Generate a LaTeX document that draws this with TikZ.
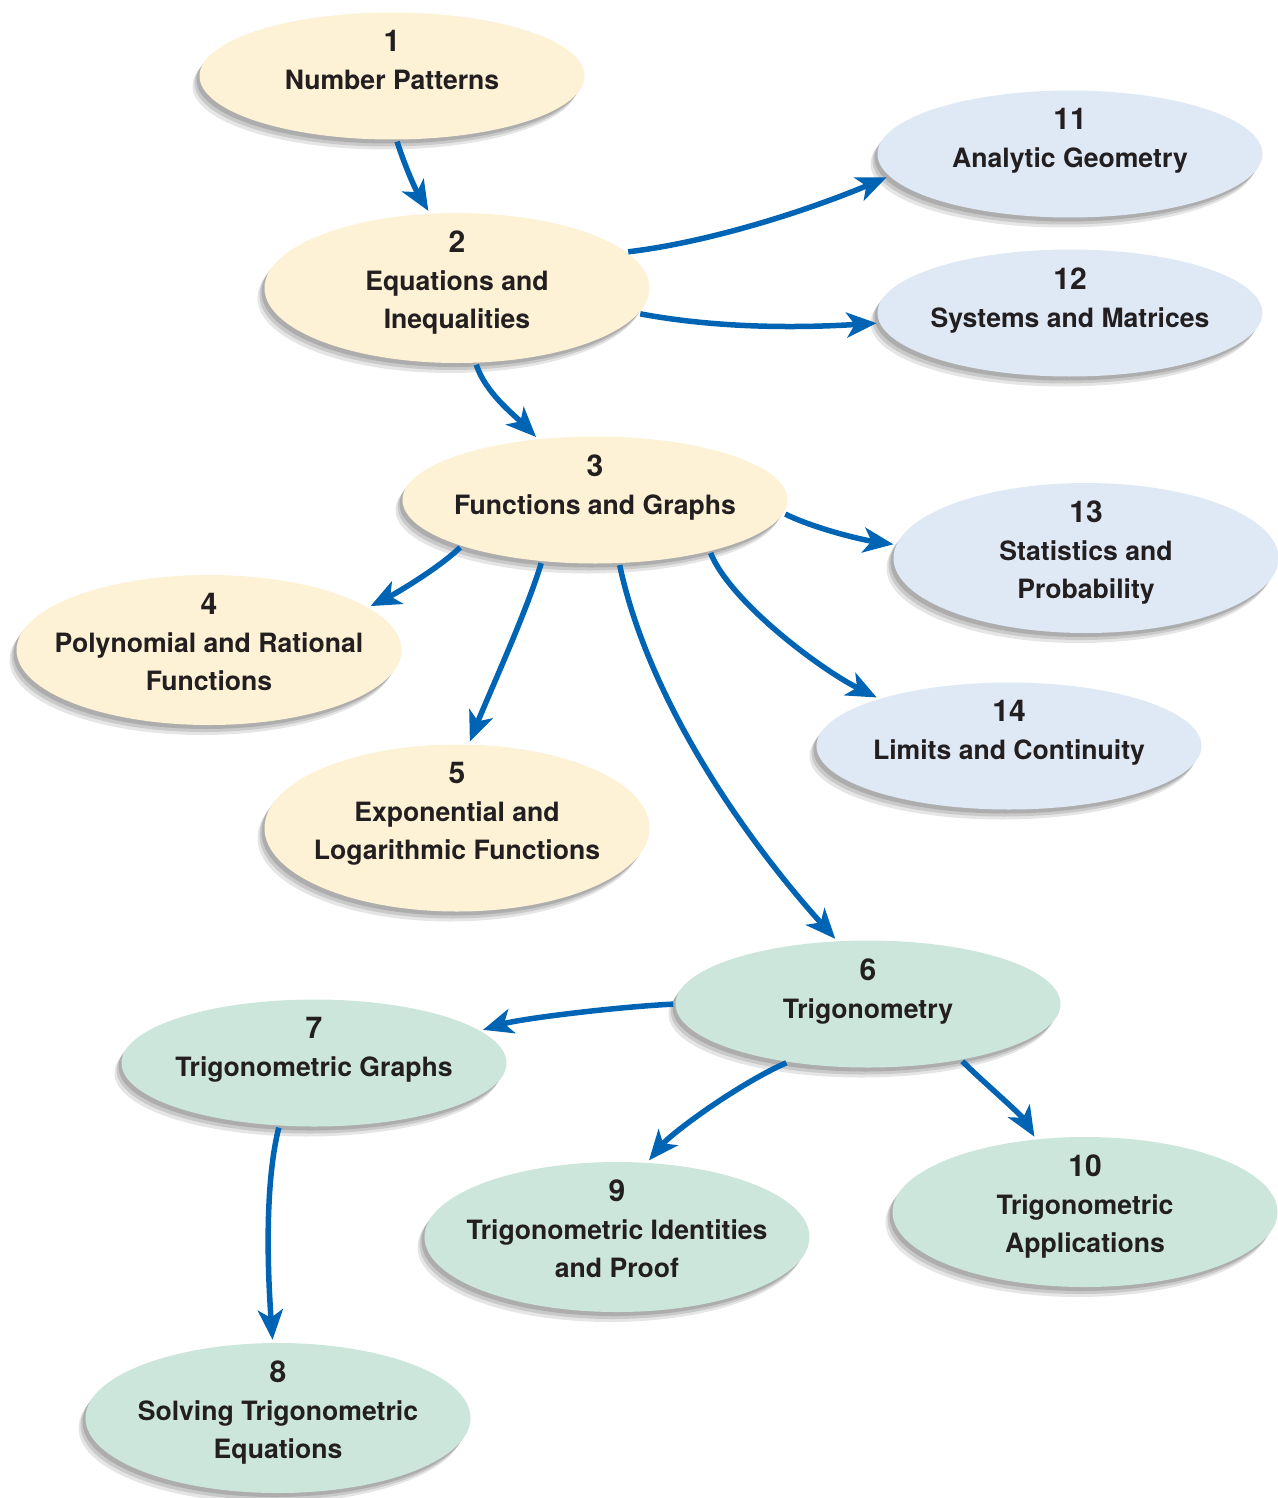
\documentclass[tikz,border=0pt]{standalone}
\usepackage{fontspec}
\setmainfont{TeX Gyre Heros}
\usetikzlibrary{arrows.meta,shapes.geometric}
\definecolor{yel}{HTML}{FDF1D6}
\definecolor{blu}{HTML}{DFE9F5}
\definecolor{grn}{HTML}{CDE6DC}
\definecolor{arrowblue}{HTML}{0064B4}
\definecolor{ink}{HTML}{231F20}
\begin{document}
\begin{tikzpicture}[x=1pt,y=-1pt,
  shadowed/.style={
    preaction={fill=black, opacity=0.10, transform canvas={xshift=-7pt,yshift=-10pt}},
    preaction={fill=black, opacity=0.12, transform canvas={xshift=-5pt,yshift=-7pt}},
    preaction={fill=black, opacity=0.14, transform canvas={xshift=-3pt,yshift=-4pt}}},
  ell/.style={ellipse, minimum width=385pt, minimum height=127pt, inner sep=0pt, draw=none, shadowed},
  tall/.style={minimum height=150pt},
  ylw/.style={ell, fill=yel},
  bl/.style={ell, fill=blu},
  gr/.style={ell, fill=grn},
  txt/.style={align=center, anchor=north, inner sep=0pt, text=ink,
    font=\fontsize{26.6}{38}\selectfont\bfseries},
  arr/.style={draw=arrowblue, line width=5.5pt,
    -{Stealth[length=30pt,width=25pt,inset=8pt]}, shorten >=3pt, shorten <=2pt}
]
\useasboundingbox (0,0) rectangle (1277,1498);
\newcommand{\numb}[1]{{\fontsize{30}{38}\selectfont #1}}

% ellipses
\node[ylw] (n1) at (392,76) {};
\node[ylw,tall] (n2) at (457,288) {};
\node[ylw] (n3) at (595,500) {};
\node[ylw,tall] (n4) at (209,650) {};
\node[ylw,minimum height=167pt] (n5) at (457,828) {};
\node[gr] (n6) at (868,1004) {};
\node[gr] (n7) at (314,1063) {};
\node[gr,tall] (n8) at (278,1418) {};
\node[gr,tall] (n9) at (617,1237) {};
\node[gr,tall] (n10) at (1085,1212) {};
\node[bl] (n11) at (1070,154) {};
\node[bl] (n12) at (1070,313) {};
\node[bl,tall] (n13) at (1086,558) {};
\node[bl] (n14) at (1009,746) {};

% texts
\node[txt] (t1) at ([yshift=-18pt]n1.north) {\numb{1}\\Number Patterns};
\node[txt] (t2) at ([yshift=-18pt]n2.north) {\numb{2}\\Equations and\\Inequalities};
\node[txt] (t3) at ([yshift=-18pt]n3.north) {\numb{3}\\Functions and Graphs};
\node[txt] (t4) at ([yshift=-18pt]n4.north) {\numb{4}\\Polynomial and Rational\\Functions};
\node[txt] (t5) at ([yshift=-18pt]n5.north) {\numb{5}\\Exponential and\\Logarithmic Functions};
\node[txt] (t6) at ([yshift=-18pt]n6.north) {\numb{6}\\Trigonometry};
\node[txt] (t7) at ([yshift=-18pt]n7.north) {\numb{7}\\Trigonometric Graphs};
\node[txt] (t8) at ([yshift=-18pt]n8.north) {\numb{8}\\Solving Trigonometric\\Equations};
\node[txt] (t9) at ([yshift=-18pt]n9.north) {\numb{9}\\Trigonometric Identities\\and Proof};
\node[txt] (t10) at ([yshift=-18pt]n10.north) {\numb{10}\\Trigonometric\\Applications};
\node[txt] (t11) at ([yshift=-18pt]n11.north) {\numb{11}\\Analytic Geometry};
\node[txt] (t12) at ([yshift=-18pt]n12.north) {\numb{12}\\Systems and Matrices};
\node[txt] (t13) at ([yshift=-18pt]n13.north) {\numb{13}\\Statistics and\\Probability};
\node[txt] (t14) at ([yshift=-18pt]n14.north) {\numb{14}\\Limits and Continuity};

% connectors
\draw[arr] (n1.-86) .. controls +(8,25) and +(-15,-25) .. (n2.110);
\draw[arr] (n2.12) .. controls +(85,-10) and +(-78,33) .. (n11.-173);
\draw[arr] (n2.-8.5) .. controls +(80,15) and +(-80,5) .. (n12.-177);
\draw[arr] (n2.-76) .. controls +(10,30) and +(-25,-25) .. (n3.133);
\draw[arr] (n3.-4.5) .. controls +(30,15) and +(-35,-5) .. (n13.176);
\draw[arr] (n3.-161) .. controls +(-20,20) and +(30,-15) .. (n4.15);
\draw[arr] (n3.-131) .. controls +(-15,50) and +(20,-50) .. (n5.82);
\draw[arr] (n3.-69) .. controls +(30,140) and +(-90,-100) .. (n6.116);
\draw[arr] (n3.-24) .. controls +(20,50) and +(-60,-30) .. (n14.160);
\draw[arr] (n6.180) .. controls +(-60,3) and +(40,-12) .. (n7.11);
\draw[arr] (n6.-144) .. controls +(-50,22) and +(25,-30) .. (n9.68);
\draw[arr] (n6.-31) .. controls +(20,20) and +(-15,-25) .. (n10.124);
\draw[arr] (n7.-119) .. controls +(-15,60) and +(-5,-70) .. (n8.94);
\end{tikzpicture}
\end{document}
